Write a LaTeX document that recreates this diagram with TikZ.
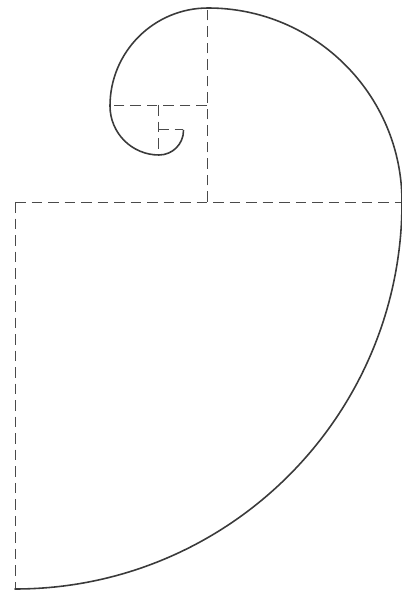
\documentclass[tikz,border=0pt]{standalone}
\usepackage{tikz}
\usetikzlibrary{calc}
\definecolor{SpiralGray}{HTML}{3A3A3A}
\definecolor{GuideGray}{HTML}{4A4A4A}
\tikzset{
    % Curve and guide styles
    spiralarc/.style={
        draw=SpiralGray,
        line width=0.9pt,
        line cap=round
    },
    guideline/.style={
        draw=GuideGray,
        line width=0.5pt,
        dash pattern=on 6pt off 3.4pt
    }
}

\begin{document}
\begin{tikzpicture}[x=0.02cm, y=0.02cm]
    \useasboundingbox (0,0) rectangle (402,596);

    % Square corners
    \coordinate (c1) at (15,394);
    \coordinate (c2) at (207,394);
    \coordinate (c3) at (207,491);
    \coordinate (c4) at (158,491);
    \coordinate (c5) at (158,466.5);

    % Guides
    \draw[guideline] (c1) -- (15,7);
    \draw[guideline] (c1) -- (402,394);
    \draw[guideline] (c2) -- (207,588);
    \draw[guideline] (c3) -- (109,491);
    \draw[guideline] (c4) -- (158,442);
    \draw[guideline] (c5) -- (182.5,466.5);

    % Spiral
    \draw[spiralarc] (15,7) arc[start angle=-90, end angle=0, radius=387]
        arc[start angle=0, end angle=90, radius=194]
        arc[start angle=90, end angle=180, radius=98]
        arc[start angle=180, end angle=270, radius=49]
        arc[start angle=-90, end angle=0, radius=24.5];
\end{tikzpicture}
\end{document}
